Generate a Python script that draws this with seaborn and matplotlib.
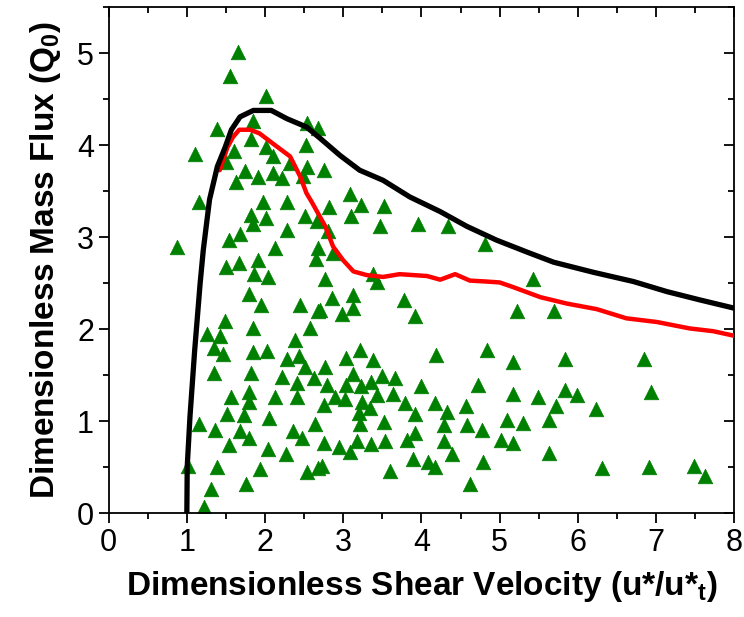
import numpy as np
import pandas as pd
import matplotlib
matplotlib.use("Agg")
from matplotlib import pyplot as plt
from matplotlib.ticker import MultipleLocator
import seaborn as sns

# Measured points (green triangles)
obs_x = [1.66, 1.55, 2.01, 1.38, 1.84, 2.53, 2.68, 1.82, 2.01, 2.52, 1.10, 1.60, 2.10, 1.50,
         2.32, 1.75, 2.53, 2.10, 1.91, 2.22, 2.48, 1.63, 1.16, 1.97, 2.28, 1.82, 2.01, 2.51,
         2.66, 1.84, 2.28, 1.68, 1.54, 0.88, 2.13, 2.68,
         1.50, 1.67, 1.91, 2.65, 1.86, 2.04, 1.79, 1.95, 2.45, 2.68, 1.49, 1.84, 2.57, 1.26,
         1.42, 2.38, 1.35, 1.46, 1.84, 2.02, 2.28, 2.44, 2.51, 1.35, 1.82, 2.22, 2.62, 2.41,
         1.79, 1.56, 2.13, 2.41, 1.79, 1.51, 1.73, 2.05, 1.15, 1.36, 2.64, 1.68, 2.36, 1.80,
         2.47, 1.54, 2.04, 2.27, 1.01, 1.39, 1.93, 2.54, 2.68, 1.76, 1.31, 1.22,
         2.75, 3.09, 2.82, 3.23, 3.52, 3.10, 2.80, 3.47, 3.96, 4.34, 2.87, 4.81, 3.38, 3.43,
         2.77, 2.85, 3.12, 2.70, 2.99, 3.13, 3.78, 3.92, 5.22, 3.21, 3.03, 3.38, 4.19, 4.84,
         5.17, 2.77, 3.13, 2.79, 3.03, 3.23, 3.35, 3.49, 3.66, 3.99, 4.72, 5.17, 2.89, 3.02,
         3.24, 3.43, 3.63, 2.75, 3.34, 3.79, 4.17, 4.57, 3.20, 4.32, 3.92, 5.09, 3.22, 3.52,
         4.29, 4.58, 4.77, 3.92, 3.81, 2.75, 3.17, 3.35, 3.54, 4.29, 5.02, 5.17, 2.95, 3.09,
         4.39, 3.89, 4.08, 4.17, 4.79, 2.73, 3.60, 4.62,
         5.42, 5.69, 5.83, 6.85, 5.49, 5.83, 5.99, 6.94, 5.72, 6.23, 5.30, 5.63, 5.63, 6.31,
         6.91, 7.49, 7.63]
obs_y = [5.01, 4.75, 4.54, 4.18, 4.27, 4.24, 4.19, 4.07, 3.98, 4.00, 3.91, 3.94, 3.88, 3.82,
         3.81, 3.72, 3.77, 3.70, 3.66, 3.65, 3.67, 3.60, 3.39, 3.39, 3.39, 3.24, 3.21, 3.23,
         3.18, 3.14, 3.08, 3.04, 2.97, 2.89, 2.88, 2.88,
         2.68, 2.72, 2.75, 2.77, 2.60, 2.57, 2.38, 2.26, 2.26, 2.20, 2.09, 2.02, 2.02, 1.95,
         1.93, 1.88, 1.80, 1.73, 1.75, 1.76, 1.68, 1.71, 1.59, 1.53, 1.53, 1.48, 1.47, 1.42,
         1.32, 1.27, 1.27, 1.27, 1.21, 1.08, 1.07, 1.04, 0.97, 0.91, 0.97, 0.89, 0.89, 0.82,
         0.82, 0.74, 0.70, 0.65, 0.51, 0.50, 0.48, 0.45, 0.49, 0.32, 0.26, 0.07,
         3.73, 3.47, 3.33, 3.35, 3.34, 3.23, 3.07, 3.12, 3.14, 3.12, 2.83, 2.93, 2.60, 2.52,
         2.55, 2.34, 2.37, 2.21, 2.17, 2.23, 2.32, 2.14, 2.20, 1.78, 1.69, 1.67, 1.72, 1.78,
         1.65, 1.59, 1.51, 1.39, 1.39, 1.38, 1.43, 1.49, 1.47, 1.38, 1.39, 1.30, 1.26, 1.24,
         1.21, 1.29, 1.30, 1.18, 1.15, 1.20, 1.20, 1.17, 1.09, 1.10, 1.08, 1.01, 0.97, 0.99,
         0.96, 0.96, 0.91, 0.87, 0.80, 0.76, 0.79, 0.75, 0.79, 0.79, 0.80, 0.76, 0.72, 0.67,
         0.64, 0.59, 0.56, 0.50, 0.56, 0.51, 0.46, 0.32,
         2.55, 2.20, 1.68, 1.68, 1.26, 1.34, 1.29, 1.32, 1.17, 1.13, 0.98, 1.02, 0.66, 0.49,
         0.50, 0.51, 0.41]

# Black model curve
black_x = [1.00, 1.005, 1.04, 1.10, 1.17, 1.21, 1.29, 1.39, 1.49, 1.57, 1.68, 1.85, 2.08,
           2.28, 2.53, 2.70, 2.96, 3.21, 3.51, 3.85, 4.24, 4.58, 4.96, 5.35, 5.69, 6.20,
           6.71, 7.14, 7.56, 8.00]
black_y = [0.00, 0.51, 1.05, 1.77, 2.50, 2.86, 3.41, 3.77, 3.98, 4.17, 4.31, 4.38, 4.38,
           4.29, 4.20, 4.08, 3.89, 3.73, 3.62, 3.44, 3.28, 3.12, 2.97, 2.84, 2.73, 2.62,
           2.52, 2.41, 2.32, 2.23]

# Red model curve
red_x = [1.42, 1.52, 1.59, 1.67, 1.81, 1.93, 2.10, 2.32, 2.45, 2.53, 2.60, 2.77, 2.87,
         3.00, 3.13, 3.30, 3.51, 3.72, 4.07, 4.24, 4.43, 4.62, 4.83, 5.00, 5.17, 5.52,
         5.86, 6.24, 6.62, 7.01, 7.43, 7.73, 8.00]
red_y = [3.73, 3.98, 4.09, 4.17, 4.17, 4.13, 4.02, 3.88, 3.66, 3.48, 3.38, 3.12, 2.90,
         2.75, 2.63, 2.59, 2.57, 2.60, 2.58, 2.54, 2.60, 2.53, 2.52, 2.51, 2.46, 2.35,
         2.28, 2.22, 2.12, 2.08, 2.01, 1.98, 1.93]

obs = pd.DataFrame({'x': obs_x, 'y': obs_y})
black = pd.DataFrame({'x': black_x, 'y': black_y})
red = pd.DataFrame({'x': red_x, 'y': red_y})

sns.set_style('ticks')
plt.rcParams['font.family'] = ['Liberation Sans', 'DejaVu Sans']
plt.rcParams['mathtext.fontset'] = 'custom'
plt.rcParams['mathtext.rm'] = 'Liberation Sans'
plt.rcParams['text.color'] = 'black'
plt.rcParams['axes.labelcolor'] = 'black'

fig = plt.figure(figsize=(7.44, 6.17), dpi=100)
ax = fig.add_axes([0.146, 0.168, 0.841, 0.82])

sns.scatterplot(data=obs, x='x', y='y', marker='^', s=110, color='#008000',
                edgecolor='#008000', linewidth=0.5, ax=ax, zorder=2)
sns.lineplot(data=red, x='x', y='y', color='#ff0000', linewidth=3.2, sort=False,
             estimator=None, ax=ax, zorder=3)
sns.lineplot(data=black, x='x', y='y', color='black', linewidth=3.8, sort=False,
             estimator=None, ax=ax, zorder=4)

ax.set_xlim(0, 8)
ax.set_ylim(0, 5.5)
for axis in [ax.xaxis, ax.yaxis]:
    axis.set_major_locator(MultipleLocator(1))
    axis.set_minor_locator(MultipleLocator(0.5))
ax.tick_params(which='major', direction='out', length=7, width=1.3, labelsize=22,
               colors='black', labelcolor='black', top=True, right=True)
ax.tick_params(which='minor', direction='out', length=4, width=1.3, colors='black',
               top=True, right=True)

# top and right ticks point inward, bottom and left outward
fig.canvas.draw()
for ticks, size in [(ax.xaxis.get_major_ticks(), 7), (ax.xaxis.get_minor_ticks(), 4)]:
    for tick in ticks:
        tick.tick2line.set_marker(matplotlib.lines.TICKDOWN)
        tick.tick2line.set_markersize(size)
for ticks, size in [(ax.yaxis.get_major_ticks(), 7), (ax.yaxis.get_minor_ticks(), 4)]:
    for tick in ticks:
        tick.tick2line.set_marker(matplotlib.lines.TICKLEFT)
        tick.tick2line.set_markersize(size)

for s in ax.spines.values():
    s.set_visible(True)
    s.set_linewidth(1.3)
    s.set_color('black')

ax.set_xlabel('Dimensionless Shear Velocity (u*/u*$_{\\mathregular{t}}$)',
              fontsize=24, fontweight='bold', labelpad=8)
ax.set_ylabel('Dimensionless Mass Flux (Q$_{\\mathregular{0}}$)',
              fontsize=24, fontweight='bold', labelpad=10)

fig.savefig('out.png', dpi=100)
